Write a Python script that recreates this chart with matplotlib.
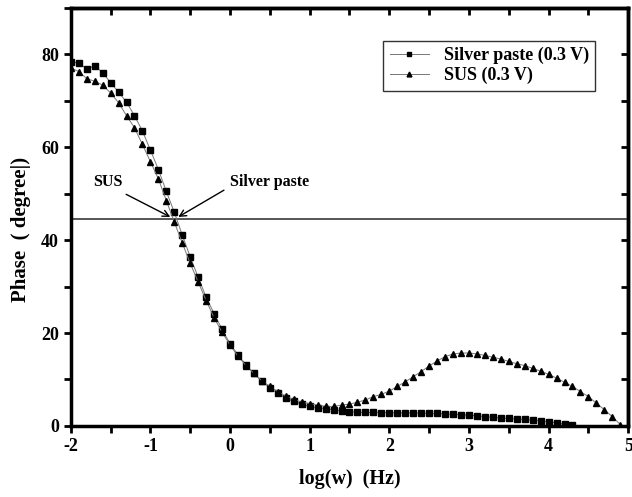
import numpy as np
import matplotlib.pyplot as plt

plt.rcParams['font.family'] = ['Liberation Serif', 'DejaVu Serif']
plt.rcParams['font.weight'] = 'bold'
plt.rcParams['axes.unicode_minus'] = False

# eixo x: log(w), passos de 0.1 decada
x_silver = np.round(np.arange(-2.0, 4.31, 0.1), 2)
x_sus = np.round(np.arange(-2.0, 4.91, 0.1), 2)

# fase (graus) - pasta de prata (quadrados)
phase_silver = [78.4, 78.1, 76.9, 77.5, 76.1, 73.9, 71.9, 69.7, 66.8, 63.5,
                59.4, 55.2, 50.5, 46.0, 41.1, 36.4, 32.0, 27.7, 24.2, 20.8,
                17.7, 15.3, 13.2, 11.3, 9.6, 8.2, 7.0, 6.0, 5.3, 4.7,
                4.2, 3.9, 3.7, 3.5, 3.2, 3.0, 2.95, 2.9, 2.9, 2.85,
                2.85, 2.8, 2.8, 2.8, 2.75, 2.7, 2.7, 2.6, 2.5, 2.4,
                2.3, 2.2, 2.0, 1.9, 1.7, 1.6, 1.5, 1.4, 1.25, 1.1,
                0.9, 0.65, 0.4, 0.1]

# SUS (triangulos)
phase_sus = [77.1, 76.3, 74.8, 74.2, 73.4, 71.7, 69.6, 66.8, 64.2, 60.6,
             56.9, 53.2, 48.5, 43.9, 39.4, 35.0, 31.0, 27.0, 23.3, 20.2,
             17.4, 15.0, 13.0, 11.3, 9.7, 8.5, 7.4, 6.4, 5.7, 5.1,
             4.8, 4.5, 4.2, 4.2, 4.5, 4.7, 5.1, 5.6, 6.3, 6.8,
             7.5, 8.5, 9.5, 10.6, 11.7, 12.9, 14.0, 14.9, 15.5, 15.7,
             15.7, 15.5, 15.2, 14.8, 14.4, 13.9, 13.4, 13.0, 12.4, 11.8,
             11.1, 10.3, 9.4, 8.5, 7.4, 6.3, 4.9, 3.5, 2.0, 0.3]

phase_45 = 44.5

fig = plt.figure(figsize=(6.32, 4.97), dpi=100)
ax = fig.add_axes([0.112, 0.143, 0.882, 0.841])

ax.axhline(phase_45, color='#555555', lw=1.4, zorder=1)
ax.plot(x_silver, phase_silver, color='#777777', lw=0.7, marker='s', ms=4,
        mfc='black', mec='black', label='Silver paste (0.3 V)')
ax.plot(x_sus, phase_sus, color='#777777', lw=0.7, marker='^', ms=5,
        mfc='black', mec='black', label='SUS (0.3 V)')

ax.set_xlim(-2, 5)
ax.set_ylim(0, 90)
ax.set_xticks(range(-2, 6))
ax.set_xticks(np.arange(-2, 5.01, 0.5), minor=True)
ax.set_yticks(range(0, 81, 20))
ax.set_yticks(range(0, 91, 10), minor=True)
ax.tick_params(which='both', direction='out', length=5, width=2, labelsize=13)

# ticks do topo e da direita para dentro
top = ax.secondary_xaxis('top')
top.set_xticks(np.arange(-2, 5.01, 0.5))
top.tick_params(direction='in', length=5, width=2, labeltop=False)
right = ax.secondary_yaxis('right')
right.set_yticks(range(0, 91, 10))
right.tick_params(direction='in', length=5, width=2, labelright=False)

for s in list(ax.spines.values()) + [top.spines['top'], right.spines['right']]:
    s.set_linewidth(2.5)

ax.set_xlabel('log(w)  (Hz)', fontsize=14.5, fontweight='bold', labelpad=10)
ax.set_ylabel('Phase  ( degree|)', fontsize=15, fontweight='bold')
ax.yaxis.set_label_coords(-0.072, 0.47)

ax.annotate('SUS', xy=(-0.75, 45.0), xytext=(-1.53, 52.6), fontsize=11.5,
            fontweight='bold', ha='center', va='center',
            arrowprops=dict(arrowstyle='->', color='black', lw=1,
                            shrinkA=3, shrinkB=0, relpos=(0.8, 0.0)))
ax.annotate('Silver paste', xy=(-0.65, 45.0), xytext=(0.5, 52.6), fontsize=11.5,
            fontweight='bold', ha='center', va='center',
            arrowprops=dict(arrowstyle='->', color='black', lw=1,
                            shrinkA=3, shrinkB=0, relpos=(0.0, 0.2)))

leg = ax.legend(loc='upper right', bbox_to_anchor=(0.957, 0.943), fontsize=13,
                frameon=True, fancybox=False, edgecolor='black',
                handlelength=2.2, borderpad=0.35, labelspacing=0.15,
                markerscale=0.7)
leg.get_frame().set_linewidth(1.0)

fig.savefig('out.png', dpi=100)
